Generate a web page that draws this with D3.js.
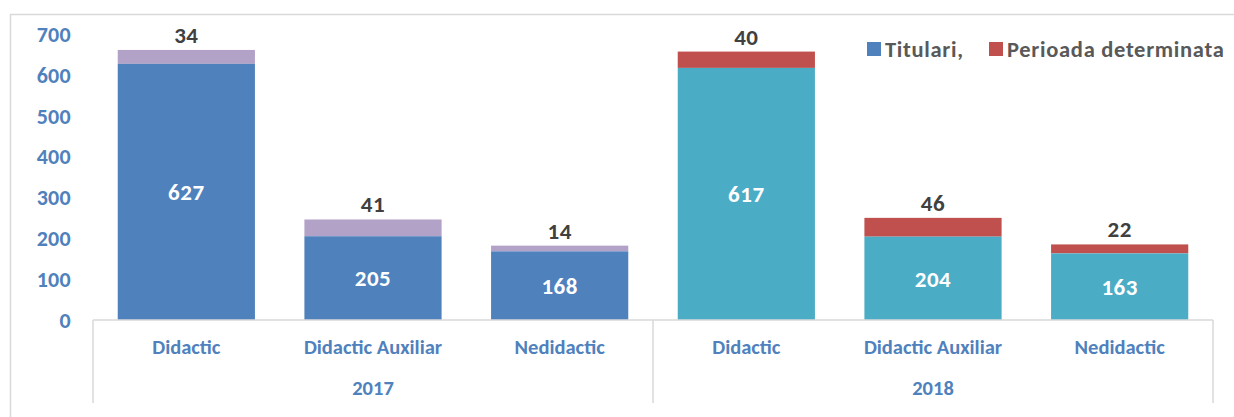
<!DOCTYPE html>
<html>
<head>
<meta charset="utf-8">
<title>Personal 2017 - 2018</title>
<script src="https://d3js.org/d3.v7.min.js"></script>
<style>
  body { margin: 0; background: #fff; }
  text { font-family: Calibri, Carlito, Lato, sans-serif; font-weight: bold; }
</style>
</head>
<body>
<svg width="1234" height="417"></svg>

<script>
// date
var years = ["2017", "2018"];
var categories = ["Didactic", "Didactic Auxiliar", "Nedidactic"];
var titulari = [627, 205, 168, 617, 204, 163];
var perioada = [34, 41, 14, 40, 46, 22];
var yTicks = [0, 100, 200, 300, 400, 500, 600, 700];
var legendLabels = ["Titulari,", "Perioada determinata"];

// culori pe an: [titulari, perioada]
var colors = { "2017": ["#4f81bd", "#b3a2c7"], "2018": ["#4bacc6", "#c0504d"] };

var svg = d3.select("svg");

var rows = [];
years.forEach(function(yr, i) {
  categories.forEach(function(c, j) {
    var k = i * categories.length + j;
    rows.push({ key: k, year: yr, cat: c, t: titulari[k], p: perioada[k] });
  });
});

var x = d3.scaleBand()
    .domain(rows.map(function(d) { return d.key; }))
    .range([93, 1213])
    .paddingInner(0.265)
    .paddingOuter(0.1325);

var y = d3.scaleLinear()
    .domain([0, 700])
    .range([320, 34]);

// chenar exterior
svg.append("path")
    .attr("d", "M10.5,417 V14.5 H1240")
    .attr("fill", "none")
    .attr("stroke", "#d9d9d9")
    .attr("stroke-width", 1.5);

// axa Y (fara linii)
svg.append("g").selectAll("text")
  .data(yTicks)
  .enter().append("text")
    .attr("x", 71)
    .attr("y", function(d) { return y(d); })
    .attr("dy", "0.36em")
    .attr("text-anchor", "end")
    .attr("fill", "#4f81bd")
    .style("font-size", "22px")
    .style("letter-spacing", "0.3px")
    .text(function(d) { return d; });

// bare stivuite
var bars = svg.append("g").selectAll("g")
  .data(rows)
  .enter().append("g");

bars.append("rect")
    .attr("x", function(d) { return x(d.key); })
    .attr("width", x.bandwidth())
    .attr("y", function(d) { return y(d.t + d.p); })
    .attr("height", function(d) { return y(d.t) - y(d.t + d.p); })
    .attr("fill", function(d) { return colors[d.year][1]; });

bars.append("rect")
    .attr("x", function(d) { return x(d.key); })
    .attr("width", x.bandwidth())
    .attr("y", function(d) { return y(d.t); })
    .attr("height", function(d) { return y(0) - y(d.t); })
    .attr("fill", function(d) { return colors[d.year][0]; });

// etichete valori
bars.append("text")
    .attr("x", function(d) { return x(d.key) + x.bandwidth() / 2; })
    .attr("y", function(d) { return (y(d.t) + y(0)) / 2; })
    .attr("dy", "0.36em")
    .attr("text-anchor", "middle")
    .attr("fill", "#fff")
    .style("font-size", "23px")
    .style("letter-spacing", "0.5px")
    .text(function(d) { return d.t; });

bars.append("text")
    .attr("x", function(d) { return x(d.key) + x.bandwidth() / 2; })
    .attr("y", function(d) { return y(d.t + d.p) - 7; })
    .attr("text-anchor", "middle")
    .attr("fill", "#404040")
    .style("font-size", "23px")
    .style("letter-spacing", "0.5px")
    .text(function(d) { return d.p; });

// axa X cu categorii pe doua niveluri
var axis = svg.append("g").attr("stroke", "#d9d9d9").attr("stroke-width", 1.5);
axis.append("line")
    .attr("x1", x.range()[0]).attr("x2", x.range()[1])
    .attr("y1", y(0)).attr("y2", y(0));

var step = x.step() * categories.length;
d3.range(years.length + 1).forEach(function(i) {
  axis.append("line")
      .attr("x1", x.range()[0] + i * step).attr("x2", x.range()[0] + i * step)
      .attr("y1", y(0)).attr("y2", 403);
});

svg.append("g").selectAll("text")
  .data(rows)
  .enter().append("text")
    .attr("x", function(d) { return x(d.key) + x.bandwidth() / 2; })
    .attr("y", 347)
    .attr("dy", "0.36em")
    .attr("text-anchor", "middle")
    .attr("fill", "#4f81bd")
    .style("font-size", "20.5px")
    .text(function(d) { return d.cat; });

svg.append("g").selectAll("text")
  .data(years)
  .enter().append("text")
    .attr("x", function(d, i) { return x.range()[0] + (i + 0.5) * step; })
    .attr("y", 388)
    .attr("dy", "0.36em")
    .attr("text-anchor", "middle")
    .attr("fill", "#4f81bd")
    .style("font-size", "20.5px")
    .text(function(d) { return d; });

// legenda
var legend = svg.append("g");
var legX = [867, 989];
legendLabels.forEach(function(l, i) {
  legend.append("rect")
      .attr("x", legX[i]).attr("y", 42)
      .attr("width", 14).attr("height", 14)
      .attr("fill", i == 0 ? colors["2017"][0] : colors["2018"][1]);
  legend.append("text")
      .attr("x", legX[i] + 18)
      .attr("y", 49)
      .attr("dy", "0.36em")
      .attr("fill", "#595959")
      .style("font-size", "22.5px")
      .style("letter-spacing", "0.7px")
      .text(l);
});
</script>
</body>
</html>
